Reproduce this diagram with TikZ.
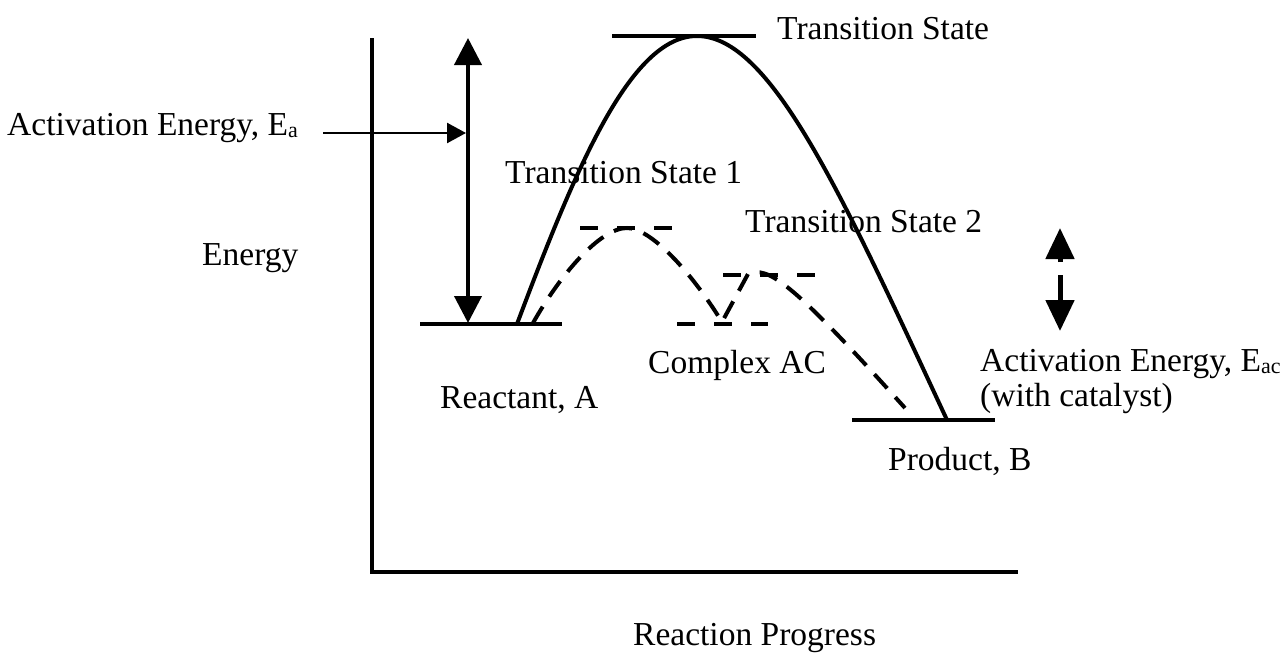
\documentclass[tikz,border=0pt]{standalone}
\usepackage{fontspec}
\setmainfont{Liberation Serif}
\usetikzlibrary{arrows.meta}
\newcommand{\mysub}[1]{\raisebox{-2pt}{\fontsize{22}{22}\selectfont #1}}
\begin{document}
\begin{tikzpicture}[x=1pt,y=-1pt,
  lbl/.style={anchor=base west,inner sep=0pt,font=\fontsize{33.5}{40}\selectfont},
  level/.style={line width=4pt},
  dashlevel/.style={line width=4pt,dash pattern=on 18pt off 19pt},
  curve/.style={line width=4pt},
  dcurve/.style={line width=4pt,dash pattern=on 19pt off 12pt},
  axis/.style={line width=4.5pt},
  bigarrow/.style={line width=4pt,{Triangle[length=27pt,width=27pt]}-{Triangle[length=27pt,width=27pt]}},
  thinarrow/.style={line width=2.5pt,-{Triangle[length=19pt,width=20pt]}},
  smallarrow/.style={line width=5pt,-{Triangle[length=31pt,width=28pt]}}
]
\useasboundingbox (0,0) rectangle (1283,654);

% axes
\coordinate (yTop) at (372,38);
\coordinate (org) at (372,572);
\coordinate (xEnd) at (1018,572);
\draw[axis] (yTop) -- (org) -- (xEnd);

% energy levels
\coordinate (rL) at (420,324); \coordinate (rR) at (562,324);
\coordinate (tL) at (612,36);  \coordinate (tR) at (756,36);
\coordinate (pL) at (852,420); \coordinate (pR) at (995,420);
\draw[level] (rL) -- (rR);
\draw[level] (tL) -- (tR);
\draw[level] (pL) -- (pR);
\coordinate (t1L) at (580,228); \coordinate (t1R) at (672,228);
\coordinate (t2L) at (723,275); \coordinate (t2R) at (815,275);
\coordinate (cL) at (677,324);  \coordinate (cR) at (768,324);
\draw[dashlevel] (t1L) -- (t1R);
\draw[dashlevel] (t2L) -- (t2R);
\draw[dashlevel] (cL) -- (cR);

% uncatalysed curve
\coordinate (s0) at (517,324); \coordinate (s1) at (697,36); \coordinate (s2) at (947,420);
\draw[curve] (s0) .. controls (575,170) and (630,36) .. (s1) .. controls (770,36) and (840,190) .. (s2);

% catalysed curve
\coordinate (d0) at (533,323); \coordinate (d1) at (627,228); \coordinate (d2) at (722,322);
\coordinate (d3) at (748,274); \coordinate (d4) at (905,408);
\draw[dcurve] (d0) .. controls (560,275) and (600,228) .. (d1) .. controls (650,228) and (690,270) .. (d2) -- (d3) .. controls (768,266) and (790,280) .. (d4);

% arrows
\coordinate (aTop) at (468,38); \coordinate (aBot) at (468,323);
\draw[bigarrow] (aTop) -- (aBot);
\coordinate (hS) at (323,133); \coordinate (hE) at (466,133);
\draw[thinarrow] (hS) -- (hE);
\coordinate (u0) at (1060,262); \coordinate (u1) at (1060,228);
\coordinate (w0) at (1060,275); \coordinate (w1) at (1060,331);
\draw[smallarrow] (u0) -- (u1);
\draw[smallarrow] (w0) -- (w1);

% labels
\node[lbl] (ts) at (777,39) {Transition State};
\node[lbl] (eaL) at (7,135) {Activation Energy, E\mysub{a}};
\node[lbl] (ts1) at (505,183) {Transition State 1};
\node[lbl] (ts2) at (745,232) {Transition State 2};
\node[lbl] (en) at (202,265) {Energy};
\node[lbl] (cac) at (648,373) {Complex AC};
\node[lbl] (ra) at (440,408) {Reactant, A};
\node[lbl] (eac1) at (980,371) {Activation Energy, E\mysub{ac}};
\node[lbl] (eac2) at (980,406) {(with catalyst)};
\node[lbl] (pb) at (888,470) {Product, B};
\node[lbl] (rp) at (633,645) {Reaction Progress};
\end{tikzpicture}
\end{document}
